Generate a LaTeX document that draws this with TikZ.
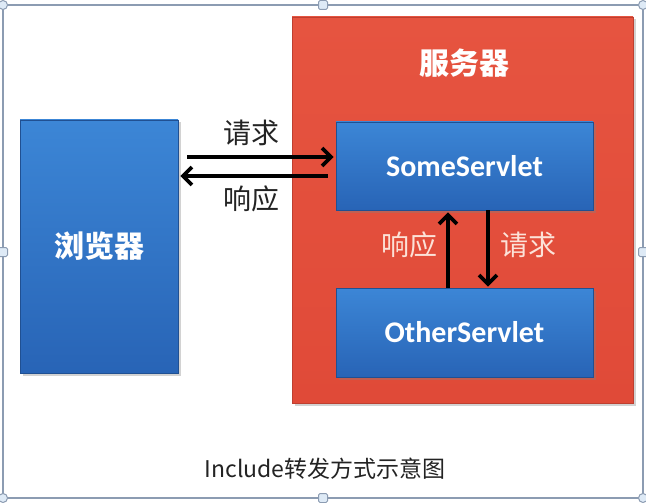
\documentclass[tikz,border=0pt]{standalone}
\usepackage{fontspec}
\setmainfont{Carlito}
\newfontfamily\cjk{Noto Sans CJK SC}
\usetikzlibrary{arrows.meta,shadows}
\definecolor{srvred}{RGB}{224,74,56}
\definecolor{srvredtop}{RGB}{230,84,64}
\definecolor{bluetop}{RGB}{60,134,214}
\definecolor{bluebot}{RGB}{40,100,182}
\definecolor{selframe}{RGB}{140,156,178}
\definecolor{handlefill}{RGB}{222,234,246}
\definecolor{lbltxt}{RGB}{35,35,35}
\definecolor{pinktxt}{RGB}{252,226,216}
\tikzset{
  bluebox/.style={draw=bluebot!80!black, line width=0.6pt, top color=bluetop, bottom color=bluebot,
    text=white, font=\bfseries, drop shadow={opacity=0.35, shadow xshift=2.5pt, shadow yshift=-2.5pt}},
  redbox/.style={draw=srvred!85!black, line width=0.6pt, top color=srvredtop, bottom color=srvred,
    drop shadow={opacity=0.35, shadow xshift=2.5pt, shadow yshift=-2.5pt}},
  flowarrow/.style={line width=3.8pt, -{Straight Barb[length=9pt,width=18pt,line width=3.8pt]}},
  lbl/.style={text=lbltxt, font=\cjk\fontsize{28}{30}\selectfont},
  lblw/.style={text=pinktxt, font=\cjk\fontsize{28}{30}\selectfont},
  handle/.style={draw=selframe, fill=handlefill, line width=1pt},
}
\begin{document}
\begin{tikzpicture}[x=1pt,y=-1pt]
\useasboundingbox (0,0) rectangle (646,503);
\fill[white] (0,0) rectangle (646,503);
% selection frame
\draw[selframe, line width=2.5pt] (3,5) rectangle (643,498);
% server
\node[redbox, minimum width=341pt, minimum height=386pt, inner sep=0pt] (srv) at (462.5,210) {};
\node[text=white, font=\cjk\bfseries\fontsize{30}{34}\selectfont] (srvlbl) at (464,63) {服务器};
% browser
\node[bluebox, minimum width=158pt, minimum height=253pt, inner sep=0pt,
      font=\cjk\bfseries\fontsize{30}{34}\selectfont] (br) at (99,246.5) {浏览器};
% servlets
\node[bluebox, minimum width=257pt, minimum height=88pt, inner sep=0pt,
      font=\bfseries\fontsize{30}{32}\selectfont] (some) at (464.5,166) {SomeServlet};
\node[bluebox, minimum width=257pt, minimum height=89pt, inner sep=0pt,
      font=\bfseries\fontsize{30}{32}\selectfont] (other) at (464.5,332.5) {OtherServlet};
% horizontal arrows
\coordinate (hq1) at (br.east |- 0,157);
\coordinate (hq2) at (some.west |- 0,157);
\coordinate (hr1) at (some.west |- 0,176);
\coordinate (hr2) at (br.east |- 0,176);
\draw[flowarrow] ([xshift=9pt]hq1) -- ([xshift=-2pt]hq2);
\draw[flowarrow] ([xshift=-8pt]hr1) -- ([xshift=2pt]hr2);
\node[lbl] (q1) at (251,133) {请求};
\node[lbl] (r1) at (251,199) {响应};
% vertical arrows
\draw[flowarrow] (other.north -| 448,0) -- ([yshift=-2pt]some.south -| 448,0);
\draw[flowarrow] (some.south -| 488,0) -- ([yshift=1pt]other.north -| 488,0);
\node[lblw] (r2) at (409,245) {响应};
\node[lblw] (q2) at (528,245) {请求};
% caption
\node[text=lbltxt, font=\cjk\fontsize{23}{26}\selectfont] (cap) at (325,469) {Include转发方式示意图};
% handles
\foreach \p in {(3,5),(643,5),(3,498),(643,498)} \draw[handle] \p circle (4.5pt);
\foreach \p in {(323,5),(323,498),(3,252),(643,252)} \draw[handle, rounded corners=1.5pt] \p ++(-4.5,-4.5) rectangle ++(9,9);
\end{tikzpicture}
\end{document}
